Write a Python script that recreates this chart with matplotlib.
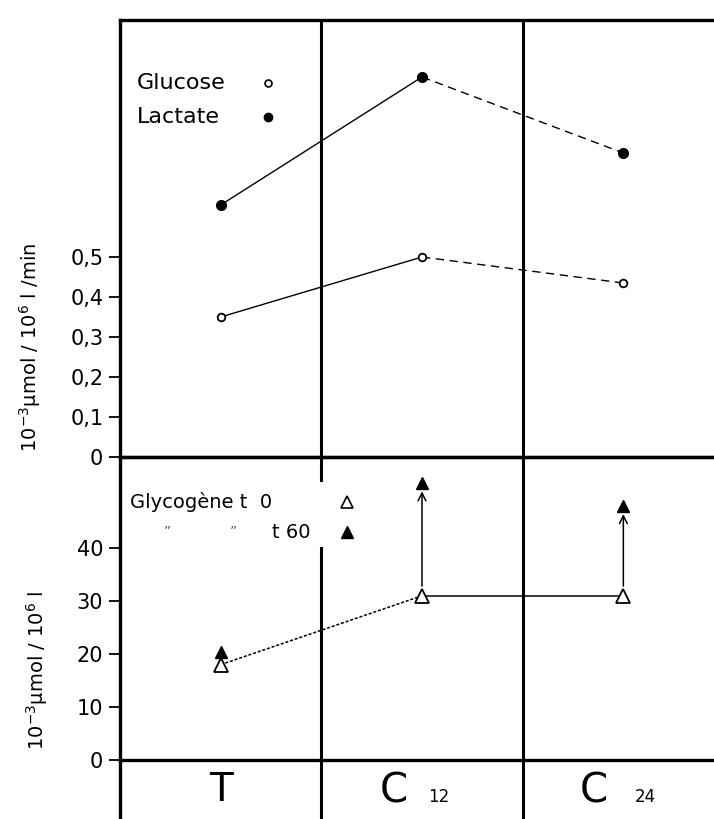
import matplotlib
matplotlib.use("Agg")
import matplotlib.pyplot as plt
from matplotlib.patches import Rectangle

# categories (columns)
groups = ["T", "C12", "C24"]
xpos = [0, 1, 2]

# top panel: flux (10^-3 umol / 10^6 l / min)
glucose = [0.35, 0.50, 0.435]
lactate = [0.63, 0.95, 0.76]
top_ticks = [0, 0.1, 0.2, 0.3, 0.4, 0.5]
top_ticklabels = ["0", "0,1", "0,2", "0,3", "0,4", "0,5"]

# bottom panel: glycogen (10^-3 umol / 10^6 l)
glyco_t0 = [18, 31, 31]
glyco_t60 = [20.3, 52.3, 48]
bot_ticks = [0, 10, 20, 30, 40]

plt.rcParams["font.family"] = ["DejaVu Sans"]

fig = plt.figure(figsize=(7.14, 8.19), dpi=100)
W, H = 714.0, 819.0

def box(x0, y0, x1, y1):
    # pixel box (top-left origin) -> figure rect
    return [x0 / W, 1 - y1 / H, (x1 - x0) / W, (y1 - y0) / H]

ax1 = fig.add_axes(box(120, 20, 724, 457))
ax2 = fig.add_axes(box(120, 457, 724, 760))
ax3 = fig.add_axes(box(120, 760, 724, 830))

for ax in (ax1, ax2, ax3):
    ax.set_xlim(-0.5, 2.5)
    ax.set_xticks([])
    ax.patch.set_facecolor("none")
    for s in ax.spines.values():
        s.set_linewidth(2.4)
    ax.axvline(0.5, color="black", lw=2.2, zorder=1)
    ax.axvline(1.5, color="black", lw=2.2, zorder=1)
    ax.tick_params(axis="y", direction="out", length=8, width=1.3, pad=4,
                   labelsize=15, colors="black")

ax3.set_yticks([])
ax3.set_ylim(0, 1)
ax3.spines["top"].set_visible(False)
ax3.spines["bottom"].set_visible(False)

# ---- top panel
ax1.set_ylim(0, 1.0925)
ax1.set_yticks(top_ticks)
ax1.set_yticklabels(top_ticklabels)
ax1.plot(xpos[:2], glucose[:2], color="black", lw=1.0, zorder=2)
ax1.plot(xpos[1:], glucose[1:], color="black", lw=1.0, dashes=(6, 4), zorder=2)
ax1.plot(xpos[:2], lactate[:2], color="black", lw=1.0, zorder=2)
ax1.plot(xpos[1:], lactate[1:], color="black", lw=1.0, dashes=(6, 4), zorder=2)
ax1.plot(xpos, glucose, ls="none", marker="o", ms=5.5, mfc="white",
         mec="black", mew=1.3, zorder=3)
ax1.plot(xpos, lactate, ls="none", marker="o", ms=7, mfc="black",
         mec="black", zorder=3)

ax1.text(0.028, 0.856, "Glucose", transform=ax1.transAxes, fontsize=16,
         va="center", ha="left")
ax1.text(0.028, 0.778, "Lactate", transform=ax1.transAxes, fontsize=16,
         va="center", ha="left")
ax1.plot([0.245], [0.856], transform=ax1.transAxes, marker="o", ms=5,
         mfc="white", mec="black", mew=1.2, clip_on=False)
ax1.plot([0.245], [0.778], transform=ax1.transAxes, marker="o", ms=6,
         mfc="black", mec="black", clip_on=False)

# ---- bottom panel
ax2.set_ylim(0, 57.2)
ax2.set_yticks(bot_ticks)
ax2.plot(xpos[:2], glyco_t0[:2], color="black", lw=1.1, dashes=(2, 1.2), zorder=2)
ax2.plot(xpos[1:], glyco_t0[1:], color="black", lw=1.1, zorder=2)
for x, a, b in zip(xpos[1:], glyco_t0[1:], glyco_t60[1:]):
    ax2.annotate("", xy=(x, b), xytext=(x, a),
                 arrowprops=dict(arrowstyle="->", lw=1.1, color="black",
                                 shrinkA=7, shrinkB=6, mutation_scale=14))
ax2.plot(xpos, glyco_t60, ls="none", marker="^", ms=9, mfc="black",
         mec="black", zorder=3)
ax2.plot(xpos, glyco_t0, ls="none", marker="^", ms=10, mfc="white",
         mec="black", mew=1.3, zorder=4)

# white gap behind the legend text on the first divider
ax2.add_patch(Rectangle(((300 - 120) / 604, (760 - 547) / 303), 50 / 604, 65 / 303,
                        transform=ax2.transAxes, facecolor="white",
                        edgecolor="none", zorder=1.5))
ax2.text(0.0166, 0.851, "Glycogène t  0", transform=ax2.transAxes, fontsize=14,
         va="center", ha="left", zorder=5)
ax2.text(0.078, 0.752, "\u201d", transform=ax2.transAxes, fontsize=10,
         va="center", ha="center", color="#555555")
ax2.text(0.188, 0.752, "\u201d", transform=ax2.transAxes, fontsize=10,
         va="center", ha="center", color="#555555")
ax2.text(0.252, 0.752, "t 60", transform=ax2.transAxes, fontsize=14,
         va="center", ha="left", zorder=5)
ax2.plot([0.376], [0.851], transform=ax2.transAxes, marker="^", ms=8,
         mfc="white", mec="black", mew=1.2, zorder=5)
ax2.plot([0.376], [0.752], transform=ax2.transAxes, marker="^", ms=8,
         mfc="black", mec="black", zorder=5)

# ---- category labels row
ax3.text(0, 0.57, "T", fontsize=28, ha="center", va="center")
ax3.text(0.861, 0.55, "C", fontsize=29, ha="center", va="center")
ax3.text(1.085, 0.47, "12", fontsize=12, ha="center", va="center")
ax3.text(1.855, 0.55, "C", fontsize=29, ha="center", va="center")
ax3.text(2.108, 0.47, "24", fontsize=12, ha="center", va="center")

# y labels
fig.text(0.042, 1 - 347 / H, r"$10^{-3}$μmol / $10^{6}$ l /min", rotation=90,
         ha="center", va="center", fontsize=14)
fig.text(0.052, 1 - 670 / H, r"$10^{-3}$μmol / $10^{6}$ l", rotation=90,
         ha="center", va="center", fontsize=14)

fig.savefig("out.png", dpi=100, facecolor="white")
